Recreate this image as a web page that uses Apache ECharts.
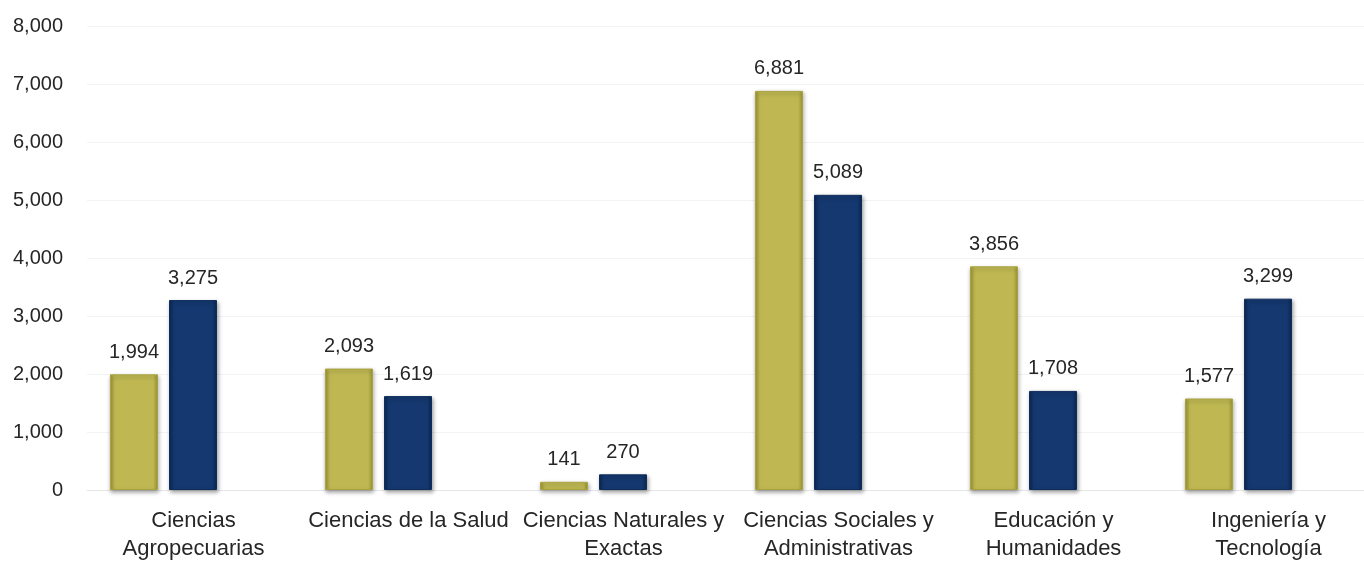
<!DOCTYPE html>
<html>
<head>
<meta charset="utf-8">
<script src="https://cdn.jsdelivr.net/npm/echarts@6/dist/echarts.min.js"></script>
<style>
html,body{margin:0;padding:0;background:#fff;}
#c{width:1364px;height:564px;}
</style>
</head>
<body>
<div id="c"></div>
<script>
const categories = ['Ciencias\nAgropecuarias', 'Ciencias de la Salud', 'Ciencias Naturales y\nExactas', 'Ciencias Sociales y\nAdministrativas', 'Educación y\nHumanidades', 'Ingeniería y\nTecnología'];
const seriesA = [1994, 2093, 141, 6881, 3856, 1577];
const seriesB = [3275, 1619, 270, 5089, 1708, 3299];
const yTicks = [0, 1000, 2000, 3000, 4000, 5000, 6000, 7000, 8000];

const fmt = v => Number(v).toLocaleString('en-US');
const FONT = 'Liberation Sans, Arial, sans-serif';

function bevel(main, edge) {
  return {
    type: 'linear', x: 0, y: 0, x2: 1, y2: 0,
    colorStops: [
      {offset: 0, color: edge},
      {offset: 0.1, color: main},
      {offset: 0.9, color: main},
      {offset: 1, color: edge}
    ]
  };
}

const chart = echarts.init(document.getElementById('c'));
chart.setOption({
  animation: false,
  backgroundColor: '#ffffff',
  textStyle: {fontFamily: FONT},
  grid: [
    {left: 56, right: 18, top: 26, bottom: 74},
    {left: 87, right: 0, top: 26, bottom: 74}
  ],
  xAxis: [
    {
      type: 'category', gridIndex: 0, data: categories,
      axisLine: {show: false}, axisTick: {show: false},
      axisLabel: {
        interval: 0, color: '#262626', fontSize: 22, lineHeight: 28,
        fontFamily: FONT, margin: 17, padding: [0, 0, 0, 60]
      }
    },
    {
      type: 'value', gridIndex: 1, min: 0, max: 1,
      axisLine: {show: true, lineStyle: {color: '#e6e6e6', width: 1}},
      axisTick: {show: false}, axisLabel: {show: false}, splitLine: {show: false}
    }
  ],
  yAxis: [
    {
      type: 'value', gridIndex: 0, min: yTicks[0], max: yTicks[yTicks.length - 1], interval: 1000,
      axisLine: {show: false}, axisTick: {show: false}, axisLabel: {show: false}, splitLine: {show: false}
    },
    {
      type: 'value', gridIndex: 1, min: yTicks[0], max: yTicks[yTicks.length - 1], interval: 1000,
      axisLine: {show: false}, axisTick: {show: false},
      axisLabel: {color: '#262626', fontSize: 20, fontFamily: FONT, margin: 24, formatter: v => fmt(v)},
      splitLine: {show: true, lineStyle: {color: '#f3f3f3', width: 1}}
    }
  ],
  series: [
    {
      type: 'bar', xAxisIndex: 0, yAxisIndex: 0, data: seriesA,
      barWidth: 48, barGap: '23%',
      itemStyle: {
        color: bevel('#bfb852', '#9c9535'),
        borderColor: '#a9a23f', borderWidth: 1,
        shadowColor: 'rgba(0,0,0,0.35)', shadowBlur: 4, shadowOffsetX: 1, shadowOffsetY: 2
      },
      label: {show: true, position: 'top', distance: 12, color: '#262626', fontSize: 20, fontFamily: FONT, formatter: p => fmt(p.value)}
    },
    {
      type: 'bar', xAxisIndex: 0, yAxisIndex: 0, data: seriesB,
      barWidth: 48, barGap: '23%',
      itemStyle: {
        color: bevel('#14386f', '#0c2752'),
        borderColor: '#0f2d5c', borderWidth: 1,
        shadowColor: 'rgba(0,0,0,0.35)', shadowBlur: 4, shadowOffsetX: 1, shadowOffsetY: 2
      },
      label: {show: true, position: 'top', distance: 12, color: '#262626', fontSize: 20, fontFamily: FONT, formatter: p => fmt(p.value)}
    }
  ]
});
</script>
</body>
</html>
